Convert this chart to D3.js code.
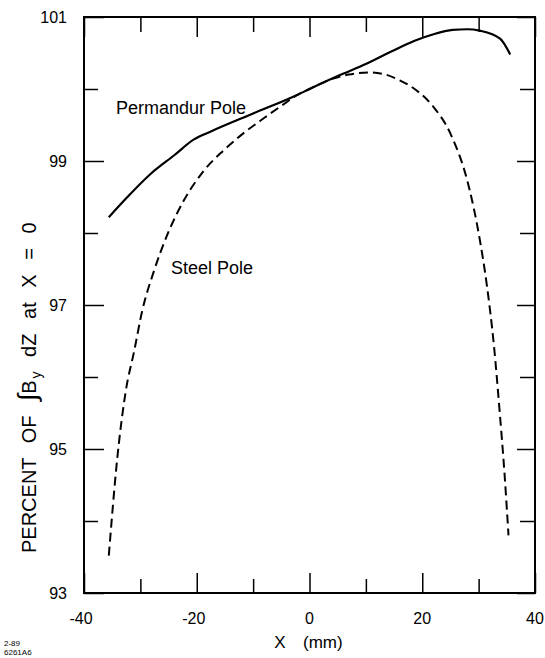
<!DOCTYPE html>
<html>
<head>
<meta charset="utf-8">
<script src="https://cdn.jsdelivr.net/npm/d3@7"></script>
<style>
  html, body { margin: 0; padding: 0; background: #fff; }
  svg { display: block; font-family: 'Liberation Sans', Arial, sans-serif; }
</style>
</head>
<body>
<div id="chart"></div>
<script>
// values
const permandurX = [-35.6, -32.3, -28.2, -24.0, -20.5, -17.5, -10, -2.1, 0, 5, 10.1, 14.5, 18.65, 22, 25.4, 28, 30.2, 33.8, 35.6];
const permandurY = [98.22, 98.5, 98.82, 99.08, 99.30, 99.41, 99.66, 99.92, 100.0, 100.18, 100.35, 100.52, 100.67, 100.76, 100.82, 100.83, 100.81, 100.70, 100.48];

const steelX = [-35.6, -34.1, -32.6, -31.1, -29.7, -27.6, -25.2, -22.3, -18.7, -15.2, -11.8, -8, -4, -2.1, 0, 4, 7, 10.7, 13.5, 16, 19, 22, 25, 28.4, 30, 31.5, 32.7, 33.7, 34.6, 35.3];
const steelY = [93.52, 94.87, 95.8, 96.36, 96.91, 97.47, 97.98, 98.45, 98.87, 99.15, 99.38, 99.6, 99.82, 99.92, 100.0, 100.14, 100.2, 100.23, 100.2, 100.12, 99.98, 99.75, 99.38, 98.6, 98.0, 97.25, 96.45, 95.55, 94.65, 93.8];

const xMajor = [-40, -20, 0, 20, 40];
const xMinor = [-30, -10, 10, 30];
const yMajor = [93, 95, 97, 99, 101];
const yMinor = [94, 96, 98, 100];

const W = 545, H = 658;
const m = { left: 84, right: 535, top: 17, bottom: 593 };

const svg = d3.select('#chart').append('svg')
  .attr('width', W)
  .attr('height', H);

const x = d3.scaleLinear().domain([-40, 40]).range([m.left, m.right]);
const y = d3.scaleLinear().domain([93, 101]).range([m.bottom, m.top]);

// inward ticks on all four sides
function ticks(axisFn, vals, size, tr) {
  const g = svg.append('g')
    .attr('transform', tr)
    .call(axisFn.tickValues(vals).tickSize(size).tickFormat(''));
  g.select('.domain').remove();
  g.selectAll('.tick line').attr('stroke', '#000').attr('stroke-width', 1.5);
}
ticks(d3.axisBottom(x), xMajor, -20, `translate(0,${m.bottom})`);
ticks(d3.axisBottom(x), xMinor, -14, `translate(0,${m.bottom})`);
ticks(d3.axisTop(x), xMajor, -20, `translate(0,${m.top})`);
ticks(d3.axisTop(x), xMinor, -15, `translate(0,${m.top})`);
ticks(d3.axisLeft(y), yMajor, -20, `translate(${m.left},0)`);
ticks(d3.axisLeft(y), yMinor, -14, `translate(${m.left},0)`);
ticks(d3.axisRight(y), yMajor, -18, `translate(${m.right},0)`);
ticks(d3.axisRight(y), yMinor, -15, `translate(${m.right},0)`);

// frame
svg.append('rect')
  .attr('x', m.left)
  .attr('y', m.top)
  .attr('width', m.right - m.left)
  .attr('height', m.bottom - m.top)
  .attr('fill', 'none')
  .attr('stroke', '#000')
  .attr('stroke-width', 2);

// tick labels
svg.append('g').selectAll('text')
  .data(xMajor)
  .enter().append('text')
  .attr('x', d => x(d) + (d < 0 ? -3 : 0))
  .attr('y', 624)
  .attr('text-anchor', 'middle')
  .style('font-size', '16px')
  .text(d => d);

svg.append('g').selectAll('text')
  .data(yMajor)
  .enter().append('text')
  .attr('x', 67)
  .attr('y', d => y(d) + 6)
  .attr('text-anchor', 'end')
  .style('font-size', '16px')
  .text(d => d);

// curves
const line = d3.line()
  .x(d => x(d[0]))
  .y(d => y(d[1]))
  .curve(d3.curveMonotoneX);

svg.append('path')
  .datum(steelX.map((v, i) => [v, steelY[i]]))
  .attr('d', line)
  .attr('fill', 'none')
  .attr('stroke', '#000')
  .attr('stroke-width', 2)
  .attr('stroke-dasharray', '9,5');

svg.append('path')
  .datum(permandurX.map((v, i) => [v, permandurY[i]]))
  .attr('d', line)
  .attr('fill', 'none')
  .attr('stroke', '#000')
  .attr('stroke-width', 2.2);

// curve labels
svg.append('text')
  .attr('x', 116)
  .attr('y', 114)
  .style('font-size', '18px')
  .text('Permandur Pole');

svg.append('text')
  .attr('x', 171)
  .attr('y', 274)
  .style('font-size', '18px')
  .text('Steel Pole');

// axis titles
const yt = svg.append('text')
  .attr('transform', 'translate(36,553) rotate(-90)')
  .attr('text-anchor', 'start')
  .style('font-size', '20px')
  .style('word-spacing', '9px');
yt.append('tspan').text('PERCENT OF ');
yt.append('tspan').style('font-size', '26px').style('font-style', 'italic').text('\u222B');
yt.append('tspan').text('B');
yt.append('tspan').attr('dx', 2).attr('dy', 5).style('font-size', '14px').text('y');
yt.append('tspan').attr('dy', -5).text(' dZ at X = 0');

svg.append('text')
  .attr('x', 280)
  .attr('y', 648)
  .attr('text-anchor', 'middle')
  .style('font-size', '17px')
  .text('X');
svg.append('text')
  .attr('x', 303)
  .attr('y', 648)
  .style('font-size', '17px')
  .text('(mm)');

// figure id
svg.append('text')
  .attr('x', 4)
  .attr('y', 646)
  .style('font-size', '8px')
  .text('2-89');
svg.append('text')
  .attr('x', 4)
  .attr('y', 655)
  .style('font-size', '8px')
  .text('6261A6');
</script>
</body>
</html>
